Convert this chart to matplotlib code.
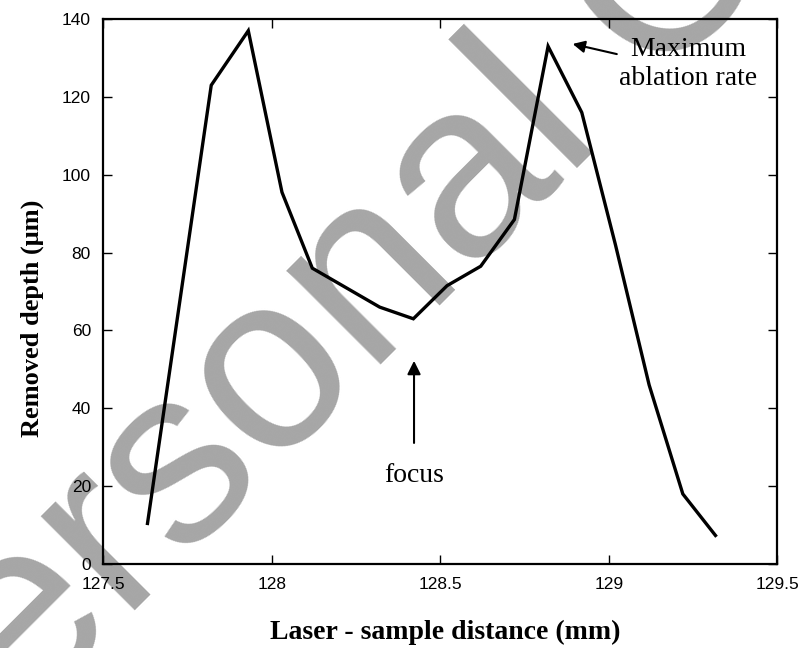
import matplotlib
matplotlib.use("Agg")
import matplotlib.pyplot as plt

# laser-sample distance (mm) vs removed depth (um)
distance = [127.63, 127.82, 127.93, 128.03, 128.12, 128.32, 128.42, 128.52,
            128.62, 128.72, 128.82, 128.92, 129.02, 129.12, 129.22, 129.32]
depth = [10, 123, 137, 95.5, 76, 66, 63, 71.5,
         76.5, 88.5, 133, 116, 82, 46, 18, 7]

x_ticks = [127.5, 128, 128.5, 129, 129.5]
x_tick_labels = ["127.5", "128", "128.5", "129", "129.5"]
y_ticks = [0, 20, 40, 60, 80, 100, 120, 140]

serif = "Liberation Serif"
sans = "Liberation Sans"

fig = plt.figure(figsize=(8.02, 6.48), dpi=100)
ax = fig.add_axes([0.129, 0.1296, 0.840, 0.841])
ax.set_facecolor("none")

# watermark behind the chart
fig.text(-0.116, -0.293, "Personal Copy", fontsize=180, family=sans,
         color="#a6a6a6", rotation=45, rotation_mode="anchor",
         ha="left", va="baseline", zorder=-5)

ax.plot(distance, depth, color="black", lw=2.4, solid_joinstyle="miter",
        solid_capstyle="butt")

ax.set_xlim(127.5, 129.5)
ax.set_ylim(0, 140)
ax.set_xticks(x_ticks)
ax.set_xticklabels(x_tick_labels)
ax.set_yticks(y_ticks)
ax.tick_params(direction="in", top=True, right=True, length=6.5, width=1,
               labelsize=12.5, pad=9)
for lab in ax.get_xticklabels() + ax.get_yticklabels():
    lab.set_family(sans)
for sp in ax.spines.values():
    sp.set_linewidth(1.6)

ax.set_xlabel("Laser - sample distance (mm)", family=serif, fontweight="bold",
              fontsize=20)
ax.xaxis.set_label_coords(0.507, -0.103)
ax.set_ylabel("Removed depth (\u03bcm)", family=serif, fontweight="bold",
              fontsize=19)
ax.yaxis.set_label_coords(-0.088, 0.451)

# annotations
ax.annotate("", xy=(128.893, 133.6), xytext=(129.024, 131.0),
            arrowprops=dict(arrowstyle="-|>", color="black", lw=1.5,
                            mutation_scale=18, shrinkA=0, shrinkB=0))
ax.text(129.236, 128.4, "Maximum\nablation rate", family=serif, fontsize=20,
        ha="center", va="center", linespacing=1.2)

ax.annotate("", xy=(128.422, 52.2), xytext=(128.422, 31.1),
            arrowprops=dict(arrowstyle="-|>", color="black", lw=1.5,
                            mutation_scale=20, shrinkA=0, shrinkB=0))
ax.text(128.422, 21.1, "focus", family=serif, fontsize=20,
        ha="center", va="baseline")

fig.savefig("out.png", dpi=100)
